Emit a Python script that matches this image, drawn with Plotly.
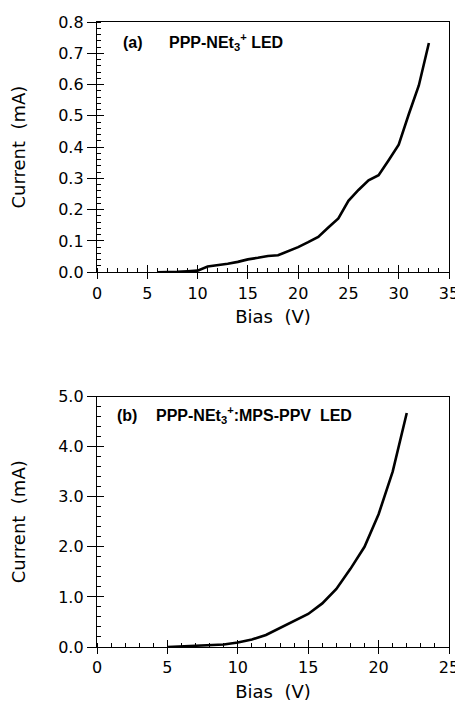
import plotly.graph_objects as go

# Panel (a): PPP-NEt3+ LED
bias_a = [6, 7, 8, 9, 10, 11, 12, 13, 14, 15, 16, 17, 18, 19, 20, 21, 22, 23, 24, 25, 26, 27, 28, 29, 30, 31, 32, 33]
current_a = [0.0, 0.0, 0.001, 0.003, 0.005, 0.018, 0.022, 0.027, 0.033, 0.041, 0.046, 0.052, 0.054, 0.066, 0.080,
             0.096, 0.113, 0.143, 0.172, 0.228, 0.263, 0.294, 0.310, 0.358, 0.408, 0.505, 0.597, 0.733]

# Panel (b): PPP-NEt3+:MPS-PPV LED
bias_b = [5, 6, 7, 8, 9, 10, 11, 12, 13, 14, 15, 16, 17, 18, 19, 20, 21, 22]
current_b = [0.0, 0.01, 0.02, 0.03, 0.05, 0.09, 0.15, 0.24, 0.38, 0.52, 0.66, 0.87, 1.16, 1.56, 2.0, 2.65, 3.5, 4.67]

x_ticks_a = [0, 5, 10, 15, 20, 25, 30, 35]
y_ticks_a = [0.0, 0.1, 0.2, 0.3, 0.4, 0.5, 0.6, 0.7, 0.8]
y_ticklabels_a = ["0.0", "0.1", "0.2", "0.3", "0.4", "0.5", "0.6", "0.7", "0.8"]
x_ticks_b = [0, 5, 10, 15, 20, 25]
y_ticks_b = [0.0, 1.0, 2.0, 3.0, 4.0, 5.0]
y_ticklabels_b = ["0.0", "1.0", "2.0", "3.0", "4.0", "5.0"]

TICKFONT = dict(family="DejaVu Sans", size=16, color="black")
TITLEFONT = dict(family="DejaVu Sans", size=18, color="black")
ANNFONT = dict(family="Liberation Sans", size=16, color="black", weight="bold")

fig = go.Figure()
fig.add_trace(go.Scatter(x=bias_a, y=current_a, mode="lines",
                         line=dict(color="black", width=2.6), xaxis="x", yaxis="y", showlegend=False))
fig.add_trace(go.Scatter(x=bias_b, y=current_b, mode="lines",
                         line=dict(color="black", width=2.6), xaxis="x2", yaxis="y2", showlegend=False))
# dummy traces for the overlay axes that draw the inner half of the major ticks
fig.add_trace(go.Scatter(x=[None], y=[None], xaxis="x3", yaxis="y3", showlegend=False, hoverinfo="skip"))
fig.add_trace(go.Scatter(x=[None], y=[None], xaxis="x4", yaxis="y4", showlegend=False, hoverinfo="skip"))

def main_axis(rng, tickvals, ticktext, minor_dtick, domain, anchor, title, standoff, ticklen):
    return dict(range=rng, domain=domain, anchor=anchor, tickmode="array", tickvals=tickvals,
                ticktext=ticktext, ticks="outside", ticklen=ticklen, tickwidth=1.3, tickcolor="black",
                showline=True, linecolor="black", linewidth=1.4, mirror=True, showgrid=False,
                zeroline=False, tickfont=TICKFONT, automargin=False,
                title=dict(text=title, font=TITLEFONT, standoff=standoff),
                minor=dict(ticks="inside", dtick=minor_dtick, ticklen=4, tickwidth=1, tickcolor="black",
                           showgrid=False))

def inner_axis(rng, tickvals, domain, anchor, overlay):
    return dict(range=rng, domain=domain, anchor=anchor, overlaying=overlay, tickmode="array",
                tickvals=tickvals, ticks="inside", ticklen=7, tickwidth=1.3, tickcolor="black",
                showticklabels=False, showline=False, showgrid=False, zeroline=False, automargin=False)

dom_a = [0.5997, 1.0]
dom_b = [0.0, 0.4008]

# the page body adds an 8px offset, so the figure is sized to the remaining window area
fig.update_layout(
    width=455, height=694,
    margin=dict(l=89, r=14, t=14, b=55),
    paper_bgcolor="white", plot_bgcolor="white",
    xaxis=main_axis([0, 35], x_ticks_a, [str(v) for v in x_ticks_a], 1, [0, 1], "y", "Bias  (V)", 8, 6),
    yaxis=main_axis([0, 0.8], y_ticks_a, y_ticklabels_a, 0.02, dom_a, "x", "Current  (mA)", 27, 9),
    xaxis2=main_axis([0, 25], x_ticks_b, [str(v) for v in x_ticks_b], 1, [0, 1], "y2", "Bias  (V)", 8, 6),
    yaxis2=main_axis([0, 5.0], y_ticks_b, y_ticklabels_b, 0.2, dom_b, "x2", "Current  (mA)", 27, 9),
    xaxis3=inner_axis([0, 35], x_ticks_a, [0, 1], "y3", "x"),
    yaxis3=inner_axis([0, 0.8], y_ticks_a, dom_a, "x3", "y"),
    xaxis4=inner_axis([0, 25], x_ticks_b, [0, 1], "y4", "x2"),
    yaxis4=inner_axis([0, 5.0], y_ticks_b, dom_b, "x4", "y2"),
)

fig.add_annotation(text="(a)", xref="paper", yref="paper", x=0.068, y=0.968,
                   xanchor="left", yanchor="middle", showarrow=False, font=ANNFONT)
fig.add_annotation(text="PPP-NEt<sub>3</sub><sup>+</sup> LED", xref="paper", yref="paper", x=0.198, y=0.968,
                   xanchor="left", yanchor="middle", showarrow=False, font=ANNFONT)
fig.add_annotation(text="(b)", xref="paper", yref="paper", x=0.052, y=0.371,
                   xanchor="left", yanchor="middle", showarrow=False, font=ANNFONT)
fig.add_annotation(text="PPP-NEt<sub>3</sub><sup>+</sup>:MPS-PPV&nbsp;&nbsp;LED", xref="paper", yref="paper",
                   x=0.162, y=0.371, xanchor="left", yanchor="middle", showarrow=False, font=ANNFONT)

fig.write_html("out.html")
